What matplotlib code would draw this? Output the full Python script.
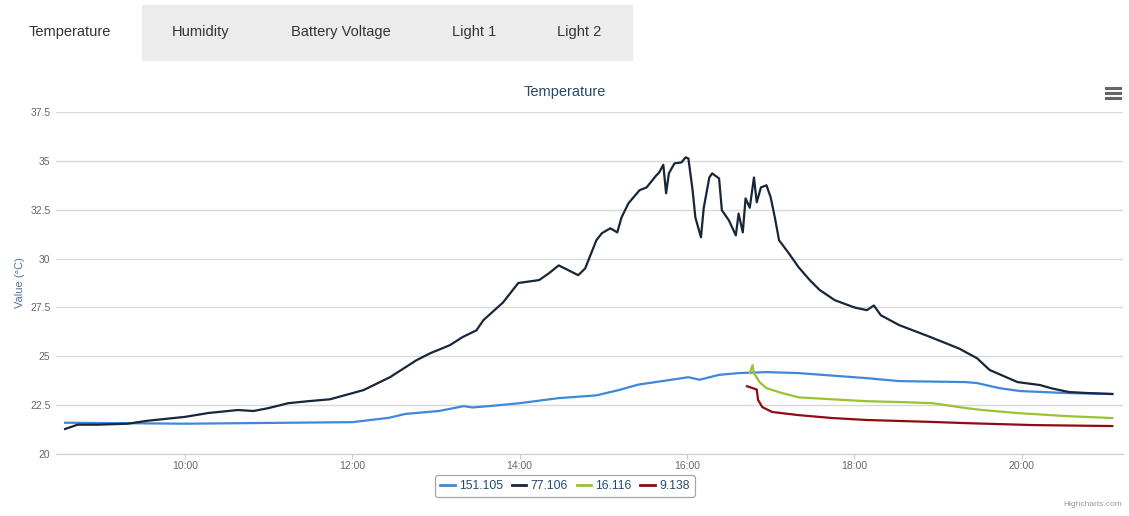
import matplotlib.pyplot as plt
from matplotlib.lines import Line2D
from matplotlib.patches import Rectangle

plt.rcParams['font.family'] = ['Liberation Sans', 'DejaVu Sans']

# sensor 151.105
t_151 = ["08:34", "10:00", "12:00", "12:26", "12:38", "13:02", "13:20", "13:26", "13:38", "14:00",
         "14:28", "14:55", "15:11", "15:25", "15:47", "16:01", "16:09", "16:23", "16:37",
         "16:57", "17:20", "18:09", "18:32", "19:20", "19:28", "19:44", "19:59", "20:32", "21:05"]
v_151 = [21.6, 21.55, 21.63, 21.85, 22.05, 22.2, 22.45, 22.38, 22.45, 22.6,
         22.86, 23.0, 23.27, 23.55, 23.78, 23.93, 23.8, 24.05, 24.14,
         24.19, 24.14, 23.88, 23.73, 23.68, 23.63, 23.37, 23.22, 23.12, 23.07]

# sensor 77.106
t_77 = ["08:34", "08:43", "08:57", "09:19", "09:33", "10:00", "10:17", "10:38", "10:49", "11:00",
        "11:14", "11:28", "11:44", "12:08", "12:27", "12:46", "12:56", "13:10", "13:19", "13:29",
        "13:34", "13:48", "13:59", "14:14", "14:21", "14:28", "14:35", "14:42", "14:47", "14:55",
        "14:59", "15:05", "15:10", "15:13", "15:18", "15:26", "15:31", "15:38", "15:40", "15:43",
        "15:45", "15:47", "15:51", "15:56", "15:59", "16:01", "16:04", "16:06", "16:10", "16:12",
        "16:16", "16:18", "16:23", "16:25", "16:30", "16:35", "16:37", "16:40", "16:42", "16:45",
        "16:48", "16:50", "16:53", "16:57", "17:00", "17:03", "17:06", "17:13", "17:20", "17:28",
        "17:35", "17:46", "18:00", "18:09", "18:14", "18:19", "18:32", "18:54", "19:15", "19:28",
        "19:37", "19:57", "20:13", "20:22", "20:34", "20:47", "21:05"]
v_77 = [21.28, 21.5, 21.5, 21.55, 21.7, 21.9, 22.1, 22.25, 22.2, 22.35,
        22.6, 22.7, 22.8, 23.27, 23.93, 24.8, 25.16, 25.57, 25.98, 26.33,
        26.85, 27.75, 28.75, 28.9, 29.25, 29.65, 29.4, 29.15, 29.5, 30.94,
        31.3, 31.55, 31.34, 32.1, 32.83, 33.5, 33.64, 34.26, 34.4, 34.8,
        33.34, 34.36, 34.87, 34.92, 35.18, 35.12, 33.5, 32.1, 31.09, 32.6,
        34.15, 34.36, 34.1, 32.47, 31.96, 31.19, 32.3, 31.34, 33.08, 32.6,
        34.15, 32.88, 33.64, 33.75, 33.13, 32.1, 30.94, 30.27, 29.56, 28.9,
        28.4, 27.87, 27.5, 27.36, 27.6, 27.1, 26.6, 26.0, 25.4, 24.9,
        24.3, 23.68, 23.53, 23.35, 23.17, 23.12, 23.07]

# sensor 16.116
t_16 = ["16:45", "16:47", "16:48", "16:52", "16:57", "17:08", "17:20", "17:44", "18:09",
        "18:32", "18:56", "19:20", "19:32", "19:56", "20:32", "21:05"]
v_16 = [24.14, 24.55, 24.14, 23.68, 23.37, 23.12, 22.9, 22.8, 22.7,
        22.66, 22.6, 22.35, 22.25, 22.1, 21.94, 21.84]

# sensor 9.138
t_9 = ["16:43", "16:47", "16:50", "16:51", "16:54", "17:01", "17:20", "17:44", "18:09",
       "18:56", "19:20", "20:08", "21:05"]
v_9 = [23.47, 23.37, 23.3, 22.76, 22.4, 22.15, 21.99, 21.84, 21.74,
       21.64, 21.58, 21.48, 21.43]

series = [("151.105", t_151, v_151, "#3f87db"),
          ("77.106", t_77, v_77, "#172639"),
          ("16.116", t_16, v_16, "#9bc232"),
          ("9.138", t_9, v_9, "#8e0c13")]

tabs = ["Temperature", "Humidity", "Battery Voltage", "Light 1", "Light 2"]


def to_hours(times):
    return [int(s[:2]) + int(s[3:]) / 60 for s in times]


fig = plt.figure(figsize=(11.29, 5.16), dpi=100)
ax = fig.add_axes([56 / 1129, 62 / 516, 1067 / 1129, 342 / 516])

for name, t, v, c in series:
    ax.plot(to_hours(t), v, color=c, lw=1.6, label=name, solid_joinstyle='round')

ax.set_xlim(8.458, 21.211)
ax.set_ylim(20, 37.5)
ax.set_yticks([20 + 2.5 * i for i in range(8)])
ax.set_yticklabels(["20", "22.5", "25", "27.5", "30", "32.5", "35", "37.5"])
ax.set_xticks(range(10, 22, 2))
ax.set_xticklabels([f"{h}:00" for h in range(10, 22, 2)])
ax.grid(axis='y', color='#d8d8d8', lw=1)
ax.set_axisbelow(True)
for s in ['top', 'right', 'left']:
    ax.spines[s].set_visible(False)
ax.spines['bottom'].set_color('#c0d0e0')
ax.tick_params(axis='y', length=0, pad=4, labelsize=7.5, labelcolor='#666666')
ax.tick_params(axis='x', length=3.5, color='#c0d0e0', pad=1.5, labelsize=7.5, labelcolor='#666666')
ax.set_ylabel("Value (°C)", color='#4d759e', fontsize=8, labelpad=4)

fig.text(565 / 1129, 1 - 92 / 516, "Temperature", ha='center', va='center',
         fontsize=10.5, color='#274b6d')

leg = fig.legend(loc='center', bbox_to_anchor=(565 / 1129, 1 - 486 / 516), ncol=4,
                 fontsize=8.8, handlelength=1.2, handletextpad=0.35, columnspacing=0.7,
                 frameon=True, fancybox=True, borderpad=0.4, labelcolor='#274b6d')
leg.get_frame().set_edgecolor('#909090')
leg.get_frame().set_linewidth(0.9)
for h in leg.legend_handles:
    h.set_linewidth(2)

# tab bar
fig.patches.append(Rectangle((142 / 1129, 1 - 60 / 516), 490 / 1129, 55 / 516,
                             transform=fig.transFigure, color='#ececec', zorder=0))
for label, xc in zip(tabs, [70, 201, 341, 474, 579]):
    fig.text(xc / 1129, 1 - 32 / 516, label, ha='center', va='center',
             fontsize=10.5, color='#333333')

# menu icon
for yy in [88, 93, 98]:
    fig.add_artist(Line2D([1106 / 1129, 1120 / 1129], [1 - yy / 516] * 2,
                          color='#666666', lw=2.2))

fig.text(1122 / 1129, 1 - 505 / 516, "Highcharts.com", ha='right', va='center',
         fontsize=6, color='#999999')

fig.savefig("out.png", dpi=100)
